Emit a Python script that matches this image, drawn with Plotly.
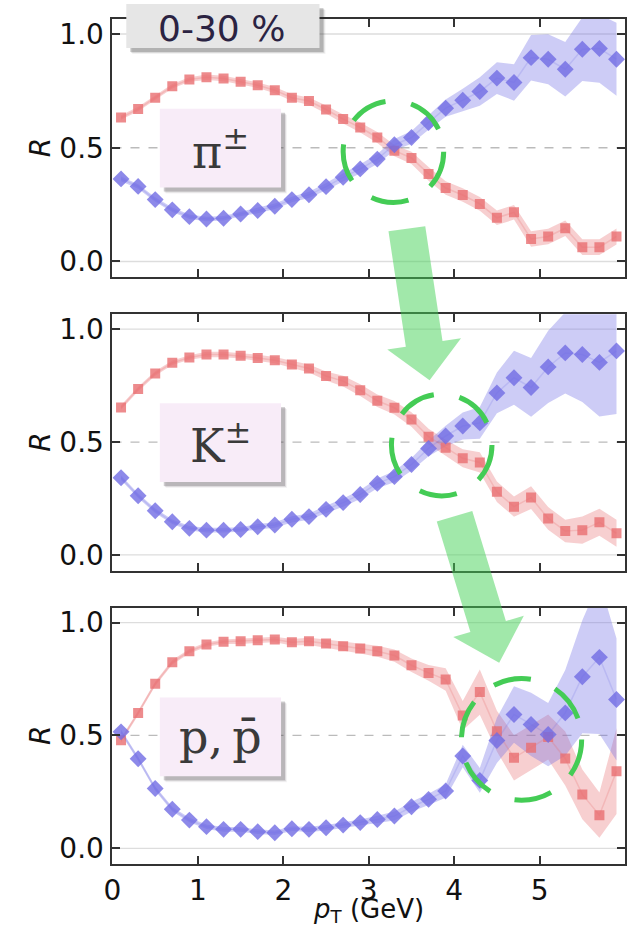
import plotly.graph_objects as go

W, H = 628, 928

pt = [0.1, 0.3, 0.5, 0.7, 0.9, 1.1, 1.3, 1.5, 1.7, 1.9, 2.1, 2.3, 2.5, 2.7, 2.9,
      3.1, 3.3, 3.5, 3.7, 3.9, 4.1, 4.3, 4.5, 4.7, 4.9, 5.1, 5.3, 5.5, 5.7, 5.9]

# pions
pi_red = [0.633, 0.67, 0.72, 0.77, 0.80, 0.81, 0.804, 0.79, 0.775, 0.753, 0.72, 0.705, 0.668, 0.626, 0.589,
          0.545, 0.487, 0.455, 0.385, 0.323, 0.292, 0.253, 0.192, 0.216, 0.099, 0.11, 0.146, 0.063, 0.063, 0.11]
pi_red_err = [0.01, 0.01, 0.01, 0.01, 0.01, 0.012, 0.012, 0.012, 0.012, 0.014, 0.015, 0.016, 0.018, 0.02, 0.022,
              0.024, 0.025, 0.027, 0.03, 0.03, 0.03, 0.03, 0.032, 0.032, 0.034, 0.034, 0.034, 0.035, 0.035, 0.035]
pi_blue = [0.363, 0.33, 0.272, 0.227, 0.197, 0.187, 0.19, 0.209, 0.224, 0.243, 0.272, 0.293, 0.329, 0.37, 0.407,
           0.45, 0.513, 0.545, 0.611, 0.674, 0.709, 0.747, 0.806, 0.787, 0.896, 0.889, 0.845, 0.933, 0.936, 0.889]
pi_blue_err = [0.01, 0.01, 0.01, 0.01, 0.01, 0.01, 0.01, 0.01, 0.012, 0.012, 0.012, 0.014, 0.016, 0.018, 0.02,
               0.022, 0.025, 0.028, 0.032, 0.038, 0.05, 0.063, 0.07, 0.08, 0.1, 0.11, 0.12, 0.14, 0.15, 0.16]

# kaons
k_red = [0.653, 0.735, 0.804, 0.851, 0.875, 0.888, 0.888, 0.882, 0.873, 0.863, 0.844, 0.826, 0.793, 0.77, 0.73,
         0.683, 0.652, 0.60, 0.524, 0.475, 0.428, 0.41, 0.28, 0.214, 0.254, 0.162, 0.106, 0.11, 0.145, 0.096]
k_red_err = [0.01, 0.01, 0.01, 0.01, 0.01, 0.012, 0.012, 0.012, 0.014, 0.014, 0.016, 0.018, 0.02, 0.024, 0.026,
             0.028, 0.03, 0.032, 0.035, 0.035, 0.04, 0.045, 0.045, 0.045, 0.05, 0.05, 0.05, 0.06, 0.06, 0.06]
k_blue = [0.342, 0.262, 0.196, 0.147, 0.118, 0.11, 0.11, 0.113, 0.125, 0.133, 0.158, 0.17, 0.202, 0.232, 0.268,
          0.317, 0.347, 0.401, 0.472, 0.527, 0.571, 0.585, 0.718, 0.785, 0.742, 0.833, 0.895, 0.888, 0.853, 0.904]
k_blue_err = [0.01, 0.01, 0.01, 0.01, 0.01, 0.01, 0.01, 0.01, 0.012, 0.012, 0.014, 0.014, 0.016, 0.018, 0.02,
              0.022, 0.025, 0.028, 0.035, 0.045, 0.06, 0.07, 0.09, 0.12, 0.13, 0.16, 0.18, 0.21, 0.24, 0.28]

# protons
p_red = [0.479, 0.60, 0.729, 0.824, 0.873, 0.903, 0.915, 0.917, 0.922, 0.925, 0.913, 0.917, 0.907, 0.895, 0.885,
         0.873, 0.854, 0.811, 0.777, 0.748, 0.588, 0.692, 0.519, 0.401, 0.446, 0.493, 0.398, 0.239, 0.147, 0.342]
p_red_err = [0.01, 0.01, 0.01, 0.01, 0.01, 0.01, 0.01, 0.012, 0.012, 0.012, 0.014, 0.016, 0.018, 0.02, 0.022,
             0.024, 0.027, 0.03, 0.035, 0.05, 0.065, 0.1, 0.09, 0.1, 0.1, 0.1, 0.12, 0.11, 0.1, 0.19]
p_blue = [0.516, 0.397, 0.265, 0.173, 0.125, 0.096, 0.084, 0.084, 0.074, 0.069, 0.087, 0.084, 0.091, 0.103, 0.114,
          0.128, 0.143, 0.184, 0.217, 0.254, 0.409, 0.301, 0.478, 0.593, 0.549, 0.504, 0.60, 0.76, 0.846, 0.659]
p_blue_err = [0.01, 0.01, 0.01, 0.01, 0.01, 0.01, 0.01, 0.01, 0.01, 0.01, 0.01, 0.012, 0.012, 0.012, 0.014,
              0.016, 0.02, 0.022, 0.025, 0.03, 0.05, 0.055, 0.1, 0.125, 0.14, 0.14, 0.19, 0.25, 0.34, 0.27]

panels = [
    (pi_red, pi_red_err, pi_blue, pi_blue_err, "π<sup>±</sup>"),
    (k_red, k_red_err, k_blue, k_blue_err, "K<sup>±</sup>"),
    (p_red, p_red_err, p_blue, p_blue_err, "p,\u2009p\u0304"),
]

x_ticks = [0, 1, 2, 3, 4, 5]
y_ticks = [0.0, 0.5, 1.0]
y_ticktext = ["0.0", "0.5", "1.0"]

# pixel layout
PX_L, PX_R = 105, 625
PANEL_PX = [(18, 277), (314, 571), (608, 865)]


def px(x):
    return x / W


def py(y):
    return 1 - y / H


RED = "rgba(232,110,112,0.8)"
RED_BAND = "rgba(232,110,112,0.33)"
RED_LINE = "rgba(232,110,112,0.25)"
BLUE = "rgba(112,108,228,0.8)"
BLUE_BAND = "rgba(112,108,228,0.35)"
BLUE_LINE = "rgba(112,108,228,0.2)"

fig = go.Figure()
shapes = []
annotations = []

for i, (rv, re, bv, be, label) in enumerate(panels):
    n = i + 1
    xa = "x" if n == 1 else f"x{n}"
    ya = "y" if n == 1 else f"y{n}"
    for vals, errs, band in [(rv, re, RED_BAND), (bv, be, BLUE_BAND)]:
        up = [v + e for v, e in zip(vals, errs)]
        lo = [v - e for v, e in zip(vals, errs)]
        fig.add_trace(go.Scatter(
            x=pt + pt[::-1], y=up + lo[::-1], fill="toself", fillcolor=band,
            line=dict(width=0), mode="lines", hoverinfo="skip", showlegend=False,
            xaxis=xa, yaxis=ya))
    for vals, line, mcol, sym, msize in [
        (rv, RED_LINE, RED, "square", 10),
        (bv, BLUE_LINE, BLUE, "diamond", 13),
    ]:
        fig.add_trace(go.Scatter(
            x=pt, y=vals, mode="lines+markers",
            line=dict(color=line, width=1.5),
            marker=dict(symbol=sym, size=msize, color=mcol, line=dict(width=0)),
            showlegend=False, xaxis=xa, yaxis=ya))

    t, b = PANEL_PX[i]
    axcommon = dict(showline=True, mirror="ticks", linecolor="#333", linewidth=2,
                    ticks="inside", ticklen=8, tickwidth=2, tickcolor="#333",
                    showgrid=False, zeroline=False,
                    tickfont=dict(family="DejaVu Sans", size=28, color="#111"))
    xkw = dict(axcommon, domain=[px(PX_L), px(PX_R)], range=[0, 6.0], anchor=ya,
               tickvals=x_ticks, showticklabels=(n == 3), ticklabelstandoff=0)
    ykw = dict(axcommon, domain=[py(b), py(t)], range=[-0.07, 1.066], anchor=xa,
               tickvals=y_ticks, ticktext=y_ticktext, ticklabelstandoff=1)
    fig.update_layout(**{("xaxis" if n == 1 else f"xaxis{n}"): xkw,
                         ("yaxis" if n == 1 else f"yaxis{n}"): ykw})

    # reference lines
    for yv, col, dash in [(0.0, "#dddddd", "solid"), (1.0, "#dddddd", "solid"), (0.5, "#bbbbbb", "dash")]:
        shapes.append(dict(type="line", xref=f"{xa} domain", yref=ya, x0=0, x1=1, y0=yv, y1=yv,
                           line=dict(color=col, width=1.3, dash=dash), layer="below"))

    # y title
    annotations.append(dict(text="<i>R</i>", xref="paper", yref=ya, x=px(32), y=0.5,
                            xanchor="center", yanchor="middle",
                            textangle=-90, showarrow=False,
                            font=dict(family="DejaVu Sans", size=28, color="#111")))

    # particle label box
    bt = [108, 403, 698][i]
    bb = bt + 79
    for k, a in [(6, 0.06), (5, 0.12), (4, 0.22)]:
        shapes.append(dict(type="rect", xref="paper", yref="paper",
                           x0=px(153 + k), x1=px(276 + k), y0=py(bb + k), y1=py(bt + k),
                           fillcolor=f"rgba(60,50,60,{a})", line=dict(width=0), layer="above"))
    shapes.append(dict(type="rect", xref="paper", yref="paper",
                       x0=px(153), x1=px(276), y0=py(bb), y1=py(bt),
                       fillcolor="#f8ecf8", line=dict(width=0), layer="above"))
    annotations.append(dict(text=label, xref="paper", yref="paper", x=px(215), y=py(bt + 40),
                            showarrow=False, xanchor="center", yanchor="middle",
                            font=dict(family="DejaVu Serif", size=46, color="#3a3a3a")))

# x title
annotations.append(dict(text="<i>p</i><sub>T</sub> (GeV)", xref="paper", yref="paper",
                        x=px(365), y=py(911), xanchor="center", yanchor="middle", showarrow=False,
                        font=dict(family="DejaVu Sans", size=26, color="#111")))

# centrality box
for k, a in [(6, 0.06), (5, 0.12), (4, 0.22)]:
    shapes.append(dict(type="rect", xref="paper", yref="paper",
                       x0=px(119 + k), x1=px(315 + k), y0=py(47 + k), y1=py(3 + k),
                       fillcolor=f"rgba(40,40,40,{a})", line=dict(width=0), layer="above"))
shapes.append(dict(type="rect", xref="paper", yref="paper",
                   x0=px(119), x1=px(315), y0=py(47), y1=py(3),
                   fillcolor="#e6e6e6", line=dict(width=0), layer="above"))
annotations.append(dict(text="0-30 %", xref="paper", yref="paper", x=px(216), y=py(28),
                        showarrow=False, xanchor="center", yanchor="middle",
                        font=dict(family="DejaVu Sans", size=36, color="#2b2342")))

# dashed circles
for cx, cy, r in [(390, 151, 51), (439, 445, 51), (520, 740, 61)]:
    shapes.append(dict(type="circle", xref="paper", yref="paper",
                       x0=px(cx - r), x1=px(cx + r), y0=py(cy + r), y1=py(cy - r),
                       line=dict(color="#44cc55", width=5, dash="38px,26px"), layer="above"))

# arrows
arrows = [
    [(385, 230.7), (402.6, 346.4), (383.8, 349.3), (426.7, 380), (458.6, 337.9), (439.8, 340.8), (422.3, 225.7)],
    [(434, 521.7), (468.1, 632.4), (450.7, 637.3), (497.3, 663.3), (522.3, 616), (504.1, 621.4), (470, 511)],
]
for poly in arrows:
    path = "M " + " L ".join(f"{px(a):.5f},{py(b):.5f}" for a, b in poly) + " Z"
    shapes.append(dict(type="path", xref="paper", yref="paper", path=path,
                       fillcolor="rgba(68,210,85,0.5)", line=dict(width=0), layer="above"))

fig.update_layout(width=W, height=H, margin=dict(l=0, r=0, t=0, b=0),
                  paper_bgcolor="white", plot_bgcolor="white",
                  shapes=shapes, annotations=annotations, showlegend=False)

fig.write_html("out.html")
